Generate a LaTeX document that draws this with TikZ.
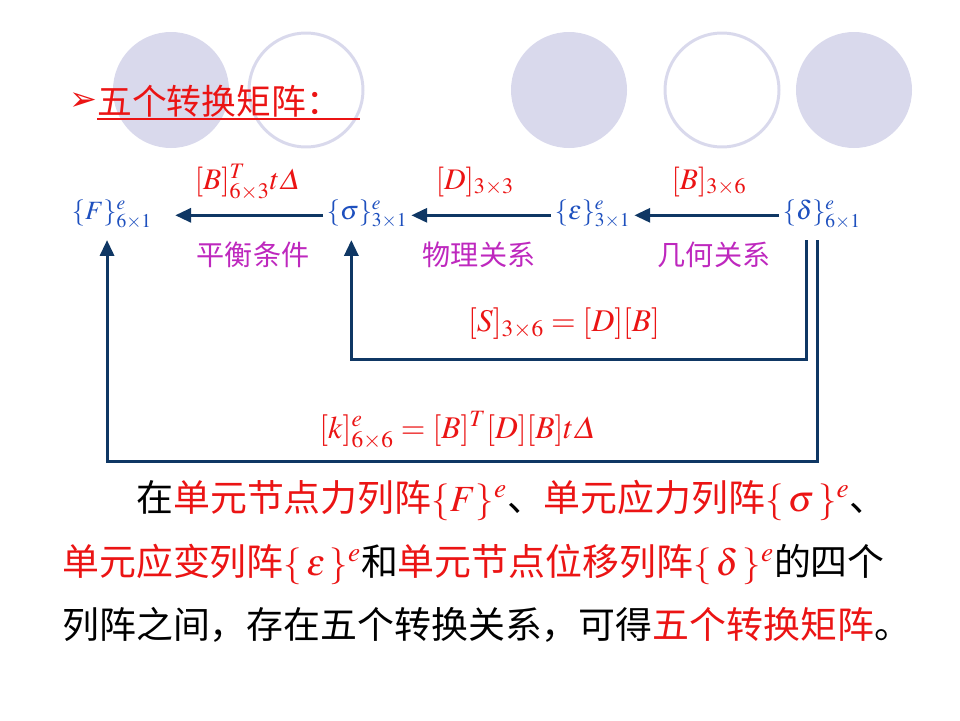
\documentclass[tikz,border=0pt]{standalone}
\usepackage{mathptmx}
\usepackage[no-math]{fontspec}
\newfontfamily\cjk{Noto Sans CJK SC}
\newfontfamily\dingfont{DejaVu Sans}
\usetikzlibrary{arrows.meta,positioning}
\DeclareMathSymbol{\itDelta}{\mathord}{letters}{"01}
\definecolor{navy}{RGB}{15,55,100}
\definecolor{vblue}{RGB}{30,80,190}
\definecolor{hred}{RGB}{235,20,20}
\definecolor{relpink}{RGB}{190,40,190}
\definecolor{lav}{RGB}{217,217,236}

\begin{document}
\begin{tikzpicture}[x=0.02cm, y=-0.02cm,
    vec/.style={text=vblue, font=\fontsize{15}{18}\selectfont, inner xsep=2pt, inner ysep=2pt,
      text height=14pt, text depth=9.8pt, anchor=base west},
    mlab/.style={text=hred, font=\fontsize{17}{20}\selectfont, inner sep=0pt, anchor=base},
    rel/.style={text=relpink, font=\cjk\fontsize{16}{19}\selectfont, inner sep=0pt},
    para/.style={font=\cjk\fontsize{21}{26}\selectfont, inner sep=0pt, anchor=base west},
    arr/.style={-{Triangle[length=9pt,width=8pt]}, draw=navy, line width=1.7pt}]
  \useasboundingbox (0,0) rectangle (960,720);
  % background circles
  \foreach \cx in {171,569,854}
    \fill[lav] (\cx,90) circle[radius=58];
  \foreach \cx in {306,722}
    \draw[lav, line width=1.7pt] (\cx,90) circle[radius=57];
  % heading
  \node[text=hred, font=\dingfont\fontsize{19}{21}\selectfont, inner sep=0pt] (bul) at (83,102) {➢};
  \node[text=hred, font=\cjk\fontsize{19.8}{24}\selectfont, inner sep=0pt, anchor=base west] (ttl) at (97,114) {五个转换矩阵：};
  \draw[hred, line width=1.1pt] ([yshift=-2.6pt]ttl.base west) -- ++(263,0);
  % the four column vectors
  \node[vec] (nF) at (68,219)  {$\{F\}^e_{6\times1}$};
  \node[vec] (nS) at (323,219) {$\{\sigma\}^e_{3\times1}$};
  \node[vec] (nE) at (551,219) {$\{\varepsilon\}^e_{3\times1}$};
  \node[vec] (nD) at (779,219) {$\{\delta\}^e_{6\times1}$};
  % transformations along the row
  \draw[arr, shorten >=11pt] (nS) -- (nF);
  \draw[arr] (nE) -- (nS);
  \draw[arr] (nD) -- (nE);
  \node[mlab] (lBT) at (248,189) {$[B]^T_{6\times3}t\itDelta$};
  \node[mlab] (lDm) at (475,189) {$[D]_{3\times3}$};
  \node[mlab] (lBm) at (709,189) {$[B]_{3\times6}$};
  \node[rel] (r1) at (253,255) {平衡条件};
  \node[rel] (r2) at (479,255) {物理关系};
  \node[rel] (r3) at (714,255) {几何关系};
  % shortcuts back from the displacements
  \draw[arr] ([xshift=-9pt]nD.south) -- ++(0,119) -| ([xshift=-9pt]nS.south);
  \draw[arr] ([xshift=-2.8pt]nD.south) -- ++(0,221) -| ([xshift=-2.8pt]nF.south);
  \node[mlab, font=\fontsize{18}{21}\selectfont] (lSm) at (564,331) {$[S]_{3\times6}=[D][B]$};
  \node[mlab, font=\fontsize{18}{21}\selectfont] (lKm) at (458,438) {$[k]^e_{6\times6}=[B]^T[D][B]t\itDelta$};
  % explanation
  \node[para] (p1) at (136,511) {在\textcolor{hred}{单元节点力列阵$\{F\}^e$}、\textcolor{hred}{单元应力列阵$\{\,\sigma\,\}^e$}、};
  \node[para] (p2) at (62,575) {\textcolor{hred}{单元应变列阵$\{\,\varepsilon\,\}^e$}和\textcolor{hred}{单元节点位移列阵$\{\,\delta\,\}^e$}的四个};
  \node[para] (p3) at (62,638) {列阵之间，存在五个转换关系，可得\textcolor{hred}{五个转换矩阵}。};
\end{tikzpicture}
\end{document}
